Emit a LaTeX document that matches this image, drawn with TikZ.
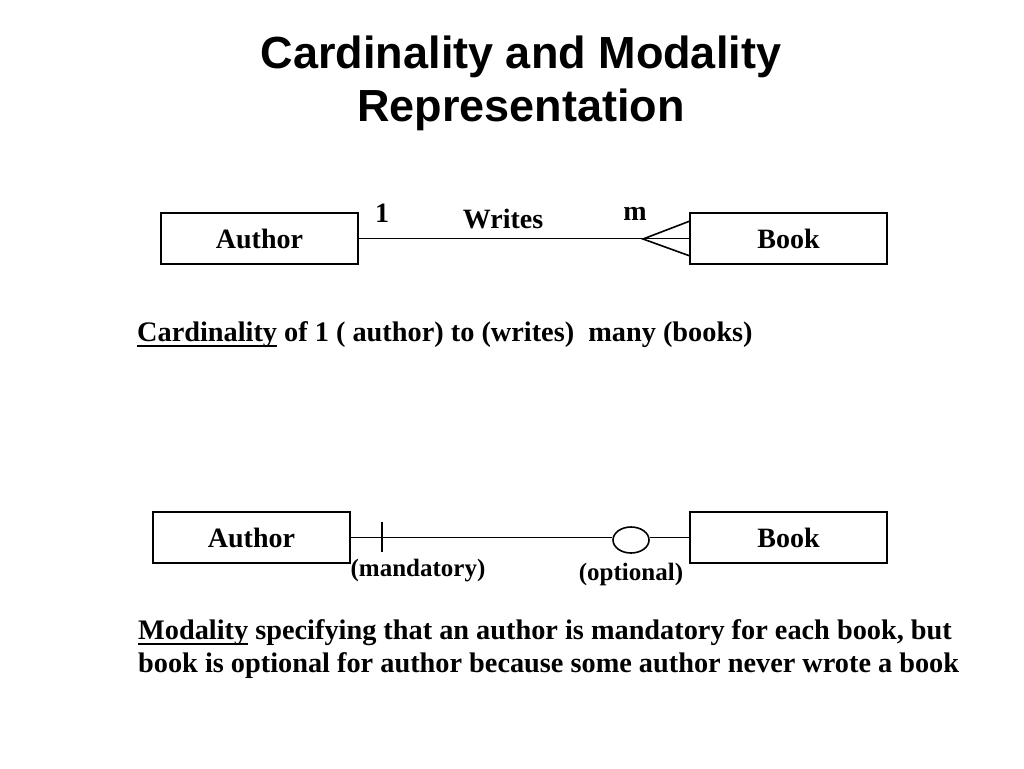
\documentclass[tikz,border=0pt]{standalone}
\usepackage{fontspec}
\setmainfont{Liberation Serif}
\newfontfamily\titlefont{Liberation Sans}
\usetikzlibrary{shapes.geometric}
\newcommand\myuline[1]{\setbox0\hbox{#1}\rlap{\rule[-5.5pt]{\wd0}{2pt}}#1}
\begin{document}
\begin{tikzpicture}[x=1pt,y=-1pt,
  entity/.style={draw,line width=1.6pt,minimum width=197pt,minimum height=51pt,inner sep=0pt,
    font=\fontsize{28}{32}\selectfont\bfseries},
  conn/.style={line width=1.6pt},
  lbl/.style={inner sep=0pt,anchor=base,font=\fontsize{28}{32}\selectfont\bfseries},
  small/.style={inner sep=0pt,anchor=base,font=\fontsize{25}{28}\selectfont\bfseries},
  caption/.style={inner sep=0pt,anchor=base west,font=\fontsize{28.3}{33}\selectfont\bfseries},
  title/.style={inner sep=0pt,anchor=base,font=\fontsize{45}{53}\selectfont\titlefont\bfseries}]
\useasboundingbox[fill=white] (0,0) rectangle (1024,768);

% title
\node[title] (t1) at (521,68) {Cardinality and Modality};
\node[title] (t2) at (521,121) {Representation};

% cardinality diagram
\node[entity] (a1) at (259.5,238.5) {Author};
\node[entity] (b1) at (788.5,238.5) {Book};
\coordinate (apex) at (643,239);
\coordinate (legu) at (690,221);
\coordinate (legd) at (690,256);
\draw[conn] (a1.east) -- (b1.west);
\draw[conn] (legu) -- (apex) -- (legd);
\node[lbl] (one) at (382,222) {1};
\node[lbl] (writes) at (503,228) {Writes};
\node[lbl] (many) at (635,220) {m};
\node[caption] (cap1) at (137,341) {\myuline{Cardinality} of 1 ( author) to (writes)\ \ many (books)};

% modality diagram
\node[entity] (a2) at (251.5,537.5) {Author};
\node[entity] (b2) at (788.5,537.5) {Book};
\node[draw,ellipse,line width=1.6pt,minimum width=36pt,minimum height=26pt,inner sep=0pt] (opt) at (631,540) {};
\coordinate (ticku) at (382,522);
\coordinate (tickd) at (382,552);
\draw[conn] (a2.east) -- (a2.east -| opt.west);
\draw[conn] (b2.west -| opt.east) -- (b2.west);
\draw[conn] (ticku) -- (tickd);
\node[small] (mand) at (418,576) {(mandatory)};
\node[small] (optl) at (631,580) {(optional)};
\node[caption] (cap2) at (138,639) {\myuline{Modality} specifying that an author is mandatory for each book, but};
\node[caption] (cap3) at (138,672) {book is optional for author because some author never wrote a book};
\end{tikzpicture}
\end{document}
